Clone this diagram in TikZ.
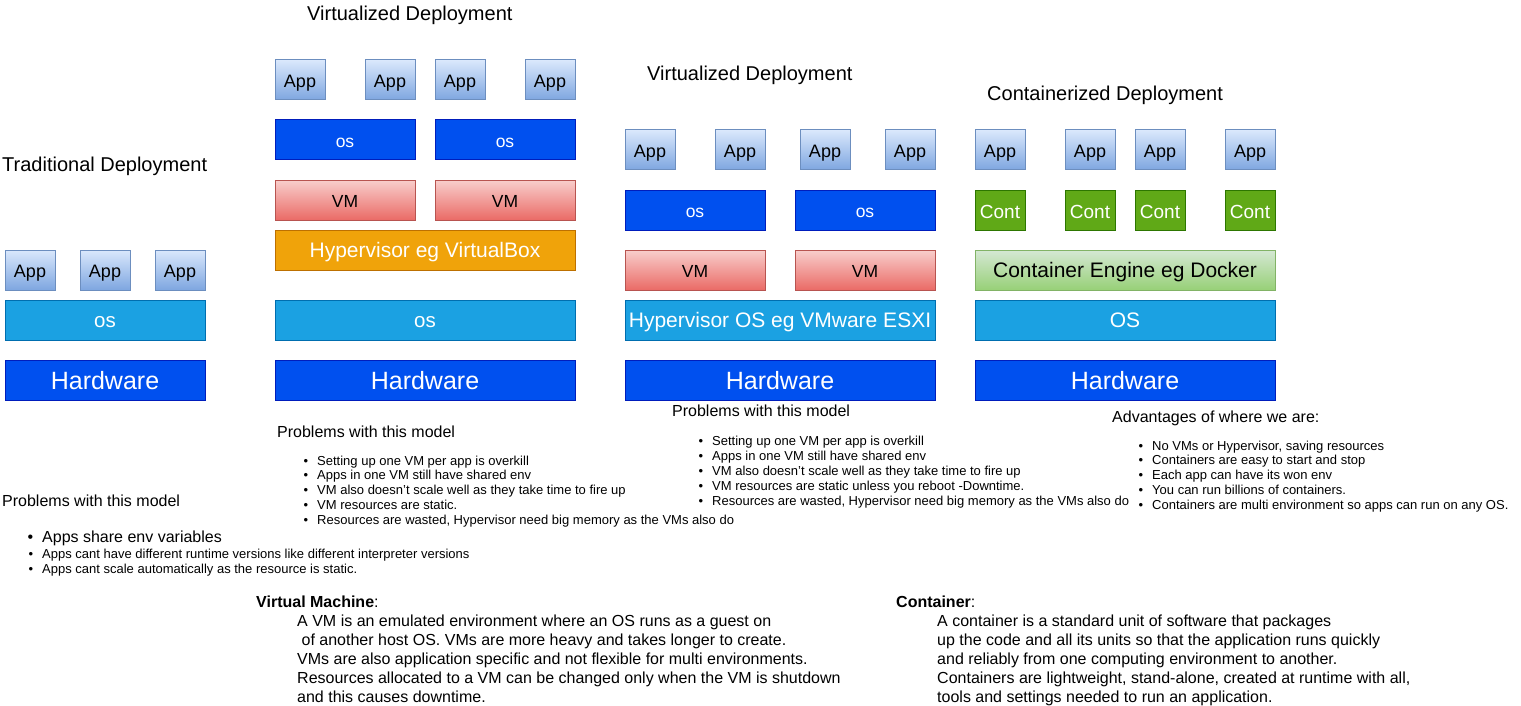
\documentclass[tikz,border=0pt]{standalone}
\usepackage{fontspec}
\setmainfont{Liberation Sans}
\usetikzlibrary{shadings}

% palette
\definecolor{hwF}{HTML}{0050EF}
\definecolor{hwD}{HTML}{001DBC}
\definecolor{osF}{HTML}{1BA1E2}
\definecolor{osD}{HTML}{006EAF}
\definecolor{hypF}{HTML}{F0A30A}
\definecolor{hypD}{HTML}{BD7000}
\definecolor{contF}{HTML}{60A917}
\definecolor{contD}{HTML}{2D7600}
\definecolor{appT}{HTML}{DAE8FC}
\definecolor{appB}{HTML}{7EA6E0}
\definecolor{appD}{HTML}{6C8EBF}
\definecolor{vmT}{HTML}{F8CECC}
\definecolor{vmB}{HTML}{EA6B66}
\definecolor{vmD}{HTML}{B85450}
\definecolor{engT}{HTML}{D5E8D4}
\definecolor{engB}{HTML}{97D077}
\definecolor{engD}{HTML}{82B366}

\newcommand\setfs[1]{\fontsize{#1}{#1}\selectfont}
\newcommand\bul{\llap{•\hspace{9pt}}}

\tikzset{
  % label size with a text box that centres the capitals in the block
  lbl/.style n args={3}{font=\setfs{#1}, text height=#2pt, text depth=#3pt},
  blk/.style={draw, line width=1pt, inner sep=0pt, minimum height=40pt},
  app/.style={blk, minimum width=50pt, top color=appT, bottom color=appB,
              draw=appD, lbl={18}{18.3}{2.7}},
  hwbox/.style={blk, fill=hwF, draw=hwD, text=white, lbl={25}{22.2}{3.8}},
  oslight/.style={blk, fill=osF, draw=osD, text=white, lbl={20.5}{18.4}{3.1}},
  osdark/.style={blk, fill=hwF, draw=hwD, text=white, minimum width=140pt, lbl={17.5}{18.4}{2.6}},
  vmbox/.style={blk, minimum width=140pt, top color=vmT, bottom color=vmB,
                draw=vmD, lbl={17.5}{16.9}{2.6}},
  hypbox/.style={blk, fill=hypF, draw=hypD, text=white, lbl={21}{17.9}{3.2}},
  contbox/.style={blk, minimum width=50pt, fill=contF, draw=contD, text=white, lbl={19}{19.6}{2.8}},
  engbox/.style={blk, top color=engT, bottom color=engB, draw=engD, lbl={21}{18.4}{3.2}},
  title/.style={anchor=base west, inner sep=0pt, font=\setfs{20}},
  txt/.style={anchor=base west, inner sep=0pt},
}

\begin{document}
\begin{tikzpicture}[x=1pt,y=-1pt]
\useasboundingbox (0,0) rectangle (1521,706);

% ---------- traditional deployment ----------
\node[title] (t1) at (2,171.5) {Traditional Deployment};
\foreach \x [count=\i] in {30,105,180}
  \node[app] (tapp\i) at (\x,270) {App};
\node[oslight, minimum width=200pt] (tos) at (105,320) {os};
\node[hwbox, minimum width=200pt] (thw) at (105,380) {Hardware};

% ---------- virtualized deployment (hosted hypervisor) ----------
\node[title] (t2) at (307,21) {Virtualized Deployment};
\foreach \x [count=\i] in {300,390,460,550}
  \node[app] (vapp\i) at (\x,80) {App};
\node[osdark] (vos1) at (345,140) {os};
\node[osdark] (vos2) at (505,140) {os};
\node[vmbox] (vvm1) at (345,200) {VM};
\node[vmbox] (vvm2) at (505,200) {VM};
\node[hypbox, minimum width=300pt] (vhyp) at (425,250) {Hypervisor eg VirtualBox};
\node[oslight, minimum width=300pt] (vos) at (425,320) {os};
\node[hwbox, minimum width=300pt] (vhw) at (425,380) {Hardware};

% ---------- virtualized deployment (bare-metal hypervisor) ----------
\node[title] (t3) at (647,81) {Virtualized Deployment};
\foreach \x [count=\i] in {650,740,825,910}
  \node[app] (bapp\i) at (\x,150) {App};
\node[osdark] (bos1) at (695,210) {os};
\node[osdark] (bos2) at (865,210) {os};
\node[vmbox] (bvm1) at (695,270) {VM};
\node[vmbox] (bvm2) at (865,270) {VM};
\node[oslight, minimum width=310pt, lbl={21}{18.4}{3.2}] (bhyp) at (780,320) {Hypervisor OS eg VMware ESXI};
\node[hwbox, minimum width=310pt] (bhw) at (780,380) {Hardware};

% ---------- containerized deployment ----------
\node[title] (t4) at (987,101) {Containerized Deployment};
\foreach \x [count=\i] in {1000,1090,1160,1250} {
  \node[app] (capp\i) at (\x,150) {App};
  \node[contbox] (ccont\i) at (\x,210) {Cont};
}
\node[engbox, minimum width=300pt] (ceng) at (1125,270) {Container Engine eg Docker};
\node[oslight, minimum width=300pt, lbl={21}{18.4}{3.2}] (cos) at (1125,320) {OS};
\node[hwbox, minimum width=300pt] (chw) at (1125,380) {Hardware};

% ---------- notes under each stack ----------
\node[txt, font=\setfs{16}] (p1) at (2,506.5) {Problems with this model};
\node[txt, font=\setfs{16}] (p1a) at (42,542.5) {\bul Apps share env variables};
\node[txt, font=\setfs{13}] (p1b) at (42,558) {\bul Apps cant have different runtime versions like different interpreter versions};
\node[txt, font=\setfs{13}] (p1c) at (42,573) {\bul Apps cant scale automatically as the resource is static.};

\node[txt, font=\setfs{16}] (p2) at (277,437.5) {Problems with this model};
\foreach \t [count=\i from 0] in {
    {Setting up one VM per app is overkill},
    {Apps in one VM still have shared env},
    {VM also doesn't scale well as they take time to fire up},
    {VM resources are static.},
    {Resources are wasted, Hypervisor need big memory as the VMs also do}}
  \node[txt, font=\setfs{13}] (p2l\i) at (317,465+14.8*\i) {\bul\t};

\node[txt, font=\setfs{16}] (p3) at (672,416) {Problems with this model};
\foreach \t [count=\i from 0] in {
    {Setting up one VM per app is overkill},
    {Apps in one VM still have shared env},
    {VM also doesn't scale well as they take time to fire up},
    {VM resources are static unless you reboot -Downtime.},
    {Resources are wasted, Hypervisor need big memory as the VMs also do}}
  \node[txt, font=\setfs{13}] (p3l\i) at (712,445+15*\i) {\bul\t};

\node[txt, font=\setfs{16}] (a4) at (1112,422.5) {Advantages of where we are:};
\foreach \t [count=\i from 0] in {
    {No VMs or Hypervisor, saving resources},
    {Containers are easy to start and stop},
    {Each app can have its won env},
    {You can run billions of containers.},
    {Containers are multi environment so apps can run on any OS.}}
  \node[txt, font=\setfs{13}] (a4l\i) at (1152,450+14.8*\i) {\bul\t};

% ---------- definitions ----------
\node[txt, font=\setfs{16}] (vmdef) at (256,607) {\textbf{Virtual Machine}:};
\foreach \t [count=\i from 0] in {
    {A VM is an emulated environment where an OS runs as a guest on},
    {\ of another host OS. VMs are more heavy and takes longer to create.},
    {VMs are also application specific and not flexible for multi environments.},
    {Resources allocated to a VM can be changed only when the VM is shutdown},
    {and this causes downtime.}}
  \node[txt, font=\setfs{16}] (vml\i) at (297,626+19*\i) {\t};

\node[txt, font=\setfs{16}] (cdef) at (896,607) {\textbf{Container}:};
\foreach \t [count=\i from 0] in {
    {A container is a standard unit of software that packages},
    {up the code and all its units so that the application runs quickly},
    {and reliably from one computing environment to another.},
    {Containers are lightweight, stand-alone, created at runtime with all,},
    {tools and settings needed to run an application.}}
  \node[txt, font=\setfs{16}] (cl\i) at (937,626+19*\i) {\t};
\end{tikzpicture}
\end{document}
